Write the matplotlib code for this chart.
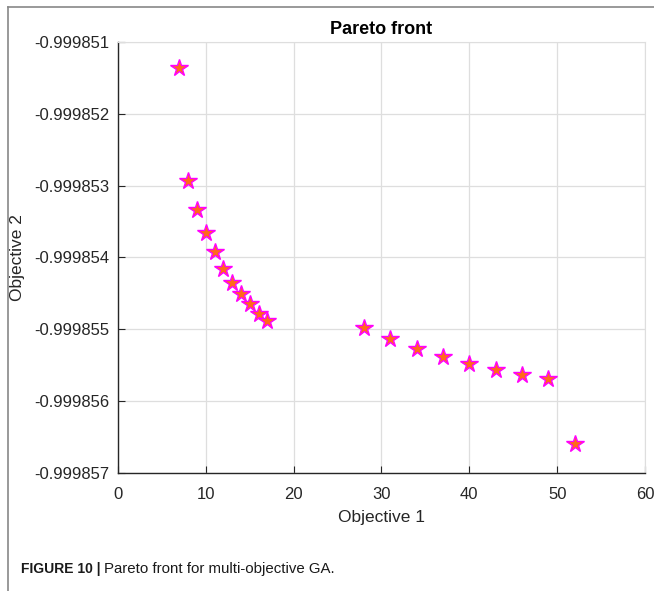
import matplotlib.pyplot as plt
from matplotlib.lines import Line2D
from matplotlib.ticker import FormatStrFormatter

plt.rcParams['font.family'] = ['Liberation Sans', 'DejaVu Sans']

# Pareto front
objective_1 = [7, 8, 9, 10, 11, 12, 13, 14, 15, 16, 17,
               28, 31, 34, 37, 40, 43, 46, 49, 52]
objective_2 = [-0.99985136, -0.99985294, -0.99985334, -0.99985366, -0.99985393,
               -0.99985416, -0.99985435, -0.99985451, -0.99985465, -0.99985478,
               -0.99985489, -0.99985498, -0.99985514, -0.99985528, -0.99985539,
               -0.99985548, -0.99985556, -0.99985564, -0.99985569, -0.99985660]
x_ticks = [0, 10, 20, 30, 40, 50, 60]
y_ticks = [-0.999857, -0.999856, -0.999855, -0.999854, -0.999853, -0.999852, -0.999851]

dark = '#262626'
grid_col = '#dedede'

fig = plt.figure(figsize=(6.54, 5.91), dpi=100)
ax = fig.add_axes([0.1804, 0.1997, 0.8058, 0.7292])

ax.plot(objective_1, objective_2, linestyle='none', marker='*', markersize=13,
        markerfacecolor='#ff6a1a', markeredgecolor='#ff00ff', markeredgewidth=1.0,
        zorder=3)

ax.set_xlim(0, 60)
ax.set_ylim(-0.999857, -0.999851)
ax.set_xticks(x_ticks)
ax.set_yticks(y_ticks)
ax.yaxis.set_major_formatter(FormatStrFormatter('%.6f'))

ax.grid(True, color=grid_col, linewidth=0.9)
ax.set_axisbelow(True)
for side in ['top', 'right']:
    ax.spines[side].set_color(grid_col)
for side in ['left', 'bottom']:
    ax.spines[side].set_color(dark)
    ax.spines[side].set_linewidth(1.0)

ax.tick_params(direction='in', length=5, width=0.8, color=dark,
               labelcolor=dark, labelsize=12)
ax.tick_params(axis='x', pad=10)
ax.tick_params(axis='y', pad=6)
ax.tick_params(top=False, right=False)

ax.set_xlabel('Objective 1', fontsize=12.5, color=dark)
ax.set_ylabel('Objective 2', fontsize=12.5, color=dark)
ax.xaxis.set_label_coords(0.5, -0.086)
ax.yaxis.set_label_coords(-0.176, 0.5)
ax.set_title('Pareto front', fontsize=13, fontweight='bold', color='black', pad=6)

# page frame and caption
fig.add_artist(Line2D([8 / 654, 8 / 654], [0, 1 - 7 / 591], color='#888888',
                      linewidth=1.2, transform=fig.transFigure))
fig.add_artist(Line2D([8 / 654, 1], [1 - 7 / 591, 1 - 7 / 591], color='#888888',
                      linewidth=1.2, transform=fig.transFigure))
fig.text(21 / 654, 1 - 569 / 591, 'FIGURE 10 |', fontsize=10, fontweight='bold',
         va='center', ha='left', color='#1a1a1a')
fig.text(104 / 654, 1 - 569 / 591, 'Pareto front for multi-objective GA.',
         fontsize=10.8, va='center', ha='left', color='#1a1a1a')

fig.savefig('out.png', dpi=100)
